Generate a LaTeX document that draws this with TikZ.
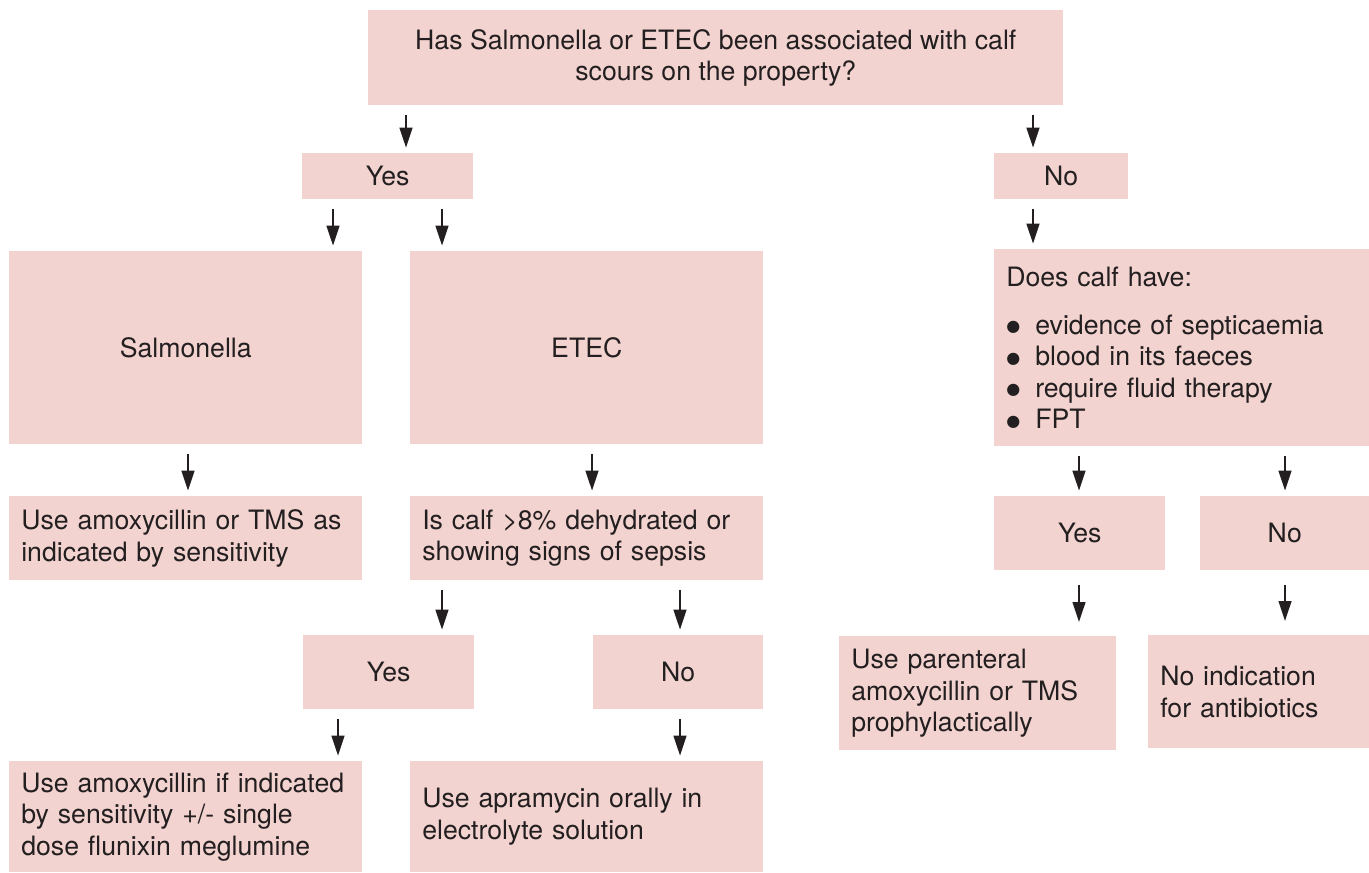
\documentclass[tikz,border=0pt]{standalone}
\usepackage{fontspec}
\setmainfont{TeX Gyre Heros}
\newfontfamily\dotfont{DejaVu Sans}
\usetikzlibrary{positioning}
\usetikzlibrary{arrows.meta}
\definecolor{boxpink}{HTML}{F2D3CF}
\definecolor{inkgrey}{HTML}{231F20}
\tikzset{%
	>={Triangle[width=9.5pt,length=15pt]},
	% Specifications for style of nodes:
	base/.style = {rectangle, fill=boxpink, draw=none, anchor=north west, inner sep=0pt, text=inkgrey, font=\fontsize{20}{23.6}\selectfont},
	choice/.style = {base, align=center},
	note/.style = {base, align=left, inner xsep=9pt},
	link/.style = {line width=1.7pt, draw=inkgrey, ->, shorten <=7pt, shorten >=4pt},
}
\newcommand{\bul}{\makebox[21.75pt][l]{\raisebox{1.8pt}{\dotfont\fontsize{12}{12}\selectfont ●}}}

\begin{document}
\begin{tikzpicture}[x=0.75pt,y=-0.75pt]
		\useasboundingbox (0,0) rectangle (1369,872);

		\node (Ask) [choice, minimum width=521.25pt, minimum height=71.25pt] at (368,10) {Has Salmonella or ETEC been associated with calf\\scours on the property?};
		\node (Yes1) [choice, minimum width=128.25pt, minimum height=34.5pt] at (302,153) {Yes};
		\node (No1) [choice, minimum width=100.5pt, minimum height=34.5pt] at (994,153) {No};

		\node (Salm) [choice, minimum width=264.75pt, minimum height=144.75pt] at (9,251) {Salmonella};
		\node (Etec) [choice, minimum width=264.75pt, minimum height=144.75pt] at (410,251) {ETEC};
		\node (Does) [note, text width=263.25pt, minimum height=147.75pt] at (994,249) {Does calf have:\\[12pt]
			\bul evidence of septicaemia\\
			\bul blood in its faeces\\
			\bul require fluid therapy\\
			\bul FPT};

		\node (UseAmox) [note, text width=246.75pt, minimum height=63pt] at (9,496) {Use amoxycillin or TMS as\\indicated by sensitivity};
		\node (IsCalf) [note, text width=246.75pt, minimum height=63pt] at (410,496) {Is calf >8\% dehydrated or\\showing signs of sepsis};
		\node (Yes3) [choice, minimum width=128.25pt, minimum height=55.5pt] at (994,496) {Yes};
		\node (No3) [choice, minimum width=126.75pt, minimum height=55.5pt] at (1200,496) {No};

		\node (Yes2) [choice, minimum width=128.25pt, minimum height=55.5pt] at (303,635) {Yes};
		\node (No2) [choice, minimum width=127.5pt, minimum height=55.5pt] at (593,635) {No};
		\node (Parent) [note, text width=189.75pt, minimum height=85.5pt] at (839,636) {Use parenteral\\amoxycillin or TMS\\prophylactically};
		\node (NoInd) [note, text width=147.75pt, minimum height=84.75pt] at (1148,635) {No indication\\for antibiotics};

		\node (UseAmoxIf) [note, text width=246.75pt, minimum height=83.25pt] at (9,761) {Use amoxycillin if indicated\\by sensitivity +/- single\\dose flunixin meglumine};
		\node (Apram) [note, text width=246.75pt, minimum height=83.25pt] at (410,761) {Use apramycin orally in\\electrolyte solution};

		% columns of the arrows
		\coordinate (xAsk) at (406,0);
		\coordinate (xNo) at (1033,0);
		\coordinate (xSalm) at (333,0);
		\coordinate (xEtec) at (442,0);
		\coordinate (xUse) at (188,0);
		\coordinate (xIs) at (592,0);
		\coordinate (xRYes) at (1079,0);
		\coordinate (xRNo) at (1285,0);
		\coordinate (xLYes) at (338,0);
		\coordinate (xLNo) at (680,0);

		\draw [link] (Ask.south -| xAsk) -- (Yes1.north -| xAsk);
		\draw [link] (Ask.south -| xNo) -- (No1.north -| xNo);

		\draw [link] (Yes1.south -| xSalm) -- (Salm.north -| xSalm);
		\draw [link] (Yes1.south -| xEtec) -- (Etec.north -| xEtec);
		\draw [link] (No1.south -| xNo) -- (Does.north -| xNo);

		\draw [link] (Salm.south -| xUse) -- (UseAmox.north -| xUse);
		\draw [link] (Etec.south -| xIs) -- (IsCalf.north -| xIs);
		\draw [link] (Does.south -| xRYes) -- (Yes3.north -| xRYes);
		\draw [link] (Does.south -| xRNo) -- (No3.north -| xRNo);

		\draw [link] (IsCalf.south -| xEtec) -- (Yes2.north -| xEtec);
		\draw [link] (IsCalf.south -| xLNo) -- (No2.north -| xLNo);
		\draw [link, shorten <=10.5pt, shorten >=10.5pt] (Yes3.south -| xRYes) -- (Parent.north -| xRYes);
		\draw [link, shorten <=10.5pt, shorten >=10.5pt] (No3.south -| xRNo) -- (NoInd.north -| xRNo);

		\draw [link] (Yes2.south -| xLYes) -- (UseAmoxIf.north -| xLYes);
		\draw [link] (No2.south -| xLNo) -- (Apram.north -| xLNo);
\end{tikzpicture}
\end{document}
